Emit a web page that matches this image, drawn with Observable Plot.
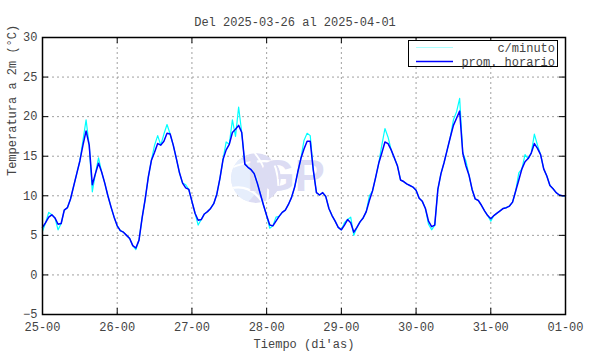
<!DOCTYPE html>
<html><head><meta charset="utf-8">
<script src="https://cdn.jsdelivr.net/npm/d3@7"></script>
<script src="https://cdn.jsdelivr.net/npm/@observablehq/plot@0.6"></script>
<style>
body{margin:0;background:#fff}
#chart svg{display:block}
</style>
</head><body><div id="chart"></div>
<script>
const title = "Del 2025-03-26 al 2025-04-01";
const xLabel = "Tiempo (di'as)";
const yLabel = "Temperatura a 2m (°C)";
const xTickHours = [0, 24, 48, 72, 96, 120, 144, 168];
const xTickLabels = ["25-00", "26-00", "27-00", "28-00", "29-00", "30-00", "31-00", "01-00"];
const yTicks = [-5, 0, 5, 10, 15, 20, 25, 30];
const seriesNames = ["c/minuto", "prom. horario"];

// hourly mean temperature, one value per hour from 25-00 to 01-00
const hourlyTemp = [
  6.0, 6.6, 7.3, 7.6, 7.2, 6.4, 6.5, 8.2, 8.5, 9.6, 11.2, 12.8, 14.4, 16.4, 18.2, 16.4, 11.4, 12.8, 14.1, 13.0, 11.6, 10.0, 8.6, 7.3,
  6.2, 5.6, 5.4, 5.0, 4.6, 3.7, 3.4, 4.4, 7.2, 9.6, 12.4, 14.5, 15.5, 16.6, 16.4, 16.9, 17.9, 17.8, 16.4, 14.7, 12.9, 11.6, 11.0, 10.8,
  9.3, 7.8, 6.9, 7.0, 7.7, 8.0, 8.4, 9.0, 10.2, 12.2, 14.6, 15.8, 16.5, 18.0, 18.4, 18.9, 18.0, 14.0, 13.6, 13.3, 12.8, 11.6, 10.2, 8.8,
  7.5, 6.3, 6.2, 6.8, 7.4, 7.9, 8.2, 8.9, 9.8, 11.1, 13.0, 14.7, 15.9, 16.9, 16.9, 13.2, 10.4, 10.1, 10.4, 9.9, 8.4, 7.5, 6.8, 6.0,
  5.7, 6.3, 7.0, 6.6, 5.4, 6.0, 6.7, 7.2, 8.0, 9.4, 10.6, 12.3, 14.1, 15.4, 16.8, 16.6, 15.8, 14.8, 13.8, 12.0, 11.8, 11.5, 11.3, 11.1,
  10.7, 9.7, 9.3, 8.4, 6.8, 6.1, 6.3, 10.8, 12.8, 14.2, 15.8, 17.4, 18.9, 19.8, 20.7, 15.4, 13.8, 12.6, 10.8, 9.6, 9.4, 8.8, 8.1, 7.5,
  7.1, 7.5, 7.8, 8.1, 8.4, 8.5, 8.7, 9.2, 10.6, 12.0, 13.4, 14.3, 14.7, 15.4, 16.6, 16.0, 15.2, 13.4, 12.5, 11.3, 10.9, 10.4, 10.1, 10.0,
  10.0
];

// per-minute readings, sampled at the same hours (spikes visible around the hourly mean)
const minuteTemp = [
  5.5, 6.6, 7.9, 7.6, 7.2, 5.7, 6.5, 8.2, 8.5, 9.6, 11.2, 12.8, 14.4, 17.0, 19.6, 16.4, 10.5, 12.8, 14.8, 13.0, 11.6, 10.0, 8.6, 7.3,
  6.2, 5.6, 5.4, 5.0, 4.6, 3.7, 3.2, 4.4, 7.2, 9.6, 12.4, 14.5, 16.4, 17.6, 16.4, 17.8, 19.0, 17.8, 16.4, 14.7, 12.9, 11.6, 11.4, 10.8,
  9.3, 7.8, 6.3, 7.0, 7.7, 8.0, 8.4, 9.0, 10.2, 12.2, 14.6, 16.8, 16.5, 19.6, 17.5, 21.2, 18.0, 14.0, 13.6, 13.3, 12.8, 11.6, 10.2, 8.8,
  7.5, 5.9, 6.2, 7.3, 7.4, 7.9, 8.2, 8.9, 9.8, 11.1, 13.0, 14.7, 17.0, 17.9, 17.6, 13.2, 10.4, 10.1, 10.4, 9.9, 8.4, 7.5, 6.8, 6.0,
  5.7, 6.6, 7.0, 7.3, 5.0, 6.0, 6.7, 7.2, 8.0, 10.0, 10.6, 12.3, 14.1, 16.4, 18.5, 17.4, 15.8, 14.8, 13.8, 12.0, 11.8, 11.5, 11.3, 11.1,
  10.7, 9.7, 9.3, 8.4, 6.4, 5.7, 6.3, 10.8, 12.8, 14.2, 15.8, 17.4, 19.6, 20.6, 22.3, 15.4, 14.4, 12.6, 10.8, 9.6, 9.4, 8.8, 8.1, 7.5,
  6.8, 7.5, 7.8, 8.1, 8.4, 8.5, 8.7, 9.2, 10.6, 12.9, 13.4, 15.2, 14.7, 15.4, 17.8, 16.4, 15.2, 13.4, 12.5, 11.3, 10.9, 10.4, 10.1, 10.0,
  10.0
];

const hourly = hourlyTemp.map((t, i) => ({hour: i, temp: t}));
const minute = minuteTemp.map((t, i) => ({hour: i, temp: t}));

const FONT = "'Liberation Mono', 'DejaVu Sans Mono', monospace";
const W = 590, H = 354, ML = 42, MR = 25, MT = 37, MB = 40;
const PH = H - MT - MB, PW = W - ML - MR;

const plot = Plot.plot({
  width: W, height: H,
  marginLeft: ML, marginRight: MR, marginTop: MT, marginBottom: MB,
  style: {fontFamily: FONT, fontSize: "12px", color: "#444", background: "#fff", overflow: "visible"},
  x: {domain: [0, 168], label: null},
  y: {domain: [-5, 30], label: null},
  marks: [
    Plot.gridX(xTickHours.slice(1, -1), {stroke: "#a0a0a0", strokeOpacity: 1, strokeDasharray: "2,3"}),
    Plot.gridY(yTicks.slice(1, -1), {stroke: "#a0a0a0", strokeOpacity: 1, strokeDasharray: "2,3"}),
    Plot.line(minute, {x: "hour", y: "temp", stroke: "#00ffff", strokeWidth: 1.2}),
    Plot.line(hourly, {x: "hour", y: "temp", stroke: "#0000ff", strokeWidth: 1.5}),
    Plot.tickX(xTickHours, {x: d => d, insetTop: PH - 6, stroke: "#000"}),
    Plot.tickX(xTickHours, {x: d => d, insetBottom: PH - 6, stroke: "#000"}),
    Plot.tickY(yTicks, {y: d => d, insetRight: PW - 6, stroke: "#000"}),
    Plot.tickY(yTicks, {y: d => d, insetLeft: PW - 6, stroke: "#000"}),
    Plot.frame({stroke: "#000", strokeWidth: 1.5}),
    Plot.axisX({ticks: xTickHours, tickSize: 0, tickPadding: 8, tickFormat: d => xTickLabels[xTickHours.indexOf(d)], fill: "#444", label: null}),
    Plot.axisY({ticks: yTicks, tickSize: 0, tickPadding: 5, fill: "#444", label: null}),
    Plot.text([title], {text: d => d, frameAnchor: "top", dy: -20, dx: -9, fill: "#444"}),
    Plot.text([xLabel], {text: d => d, frameAnchor: "bottom", dy: 33, fill: "#444"}),
    Plot.text([yLabel], {text: d => d, frameAnchor: "left", dx: -30, rotate: -90, fill: "#444"})
  ]
});
document.getElementById("chart").append(plot);

// watermark (IGP logo) behind the lines
const svg = d3.select(plot);
const wm = svg.insert("g", 'g[aria-label="line"]').attr("class", "watermark");
const cx = 256, cy = 178, r = 25;
wm.append("clipPath").attr("id", "globeclip").append("circle").attr("cx", cx).attr("cy", cy).attr("r", r);
const gg = wm.append("g").attr("clip-path", "url(#globeclip)");
gg.append("circle").attr("cx", cx).attr("cy", cy).attr("r", r).attr("fill", "#dcdcf3");
gg.append("circle").attr("cx", cx - 22).attr("cy", cy + 4).attr("r", 24).attr("fill", "#e6eefc");
gg.append("path").attr("d", `M${cx - 30},${cy - 8} Q${cx},${cy - 22} ${cx + 30},${cy - 14}`).attr("fill", "none").attr("stroke", "#fff").attr("stroke-width", 2.2);
gg.append("path").attr("d", `M${cx - 30},${cy + 12} Q${cx - 5},${cy + 2} ${cx + 10},${cy + 30}`).attr("fill", "none").attr("stroke", "#fff").attr("stroke-width", 2.2);
gg.append("path").attr("d", `M${cx - 4},${cy - 28} Q${cx + 18},${cy - 5} ${cx + 10},${cy + 30}`).attr("fill", "none").attr("stroke", "#fff").attr("stroke-width", 2);
gg.append("path").attr("d", `M${cx + 10},${cy - 28} Q${cx + 28},${cy - 5} ${cx + 20},${cy + 28}`).attr("fill", "none").attr("stroke", "#fff").attr("stroke-width", 2);
wm.append("text").attr("x", 286).attr("y", 191).text("IGP")
  .attr("font-family", "'Liberation Sans', Arial, sans-serif").attr("font-weight", "bold")
  .attr("font-size", 45).attr("fill", "#dcdcf3");

// legend
const lg = svg.append("g").attr("class", "legend");
lg.append("rect").attr("x", 408.5).attr("y", 40.5).attr("width", 149).attr("height", 26)
  .attr("fill", "#fff").attr("stroke", "#000");
const legendColors = ["#aaffff", "#0000ff"];
const legendWidths = [1, 1.5];
seriesNames.forEach((name, i) => {
  const yy = 47.5 + i * 14;
  lg.append("line").attr("x1", 416).attr("x2", 453).attr("y1", yy).attr("y2", yy)
    .attr("stroke", legendColors[i]).attr("stroke-width", legendWidths[i]);
  lg.append("text").attr("x", 555).attr("y", yy + 4).attr("text-anchor", "end")
    .attr("font-family", FONT).attr("font-size", 12).attr("fill", "#444").text(name);
});
</script>
</body></html>
